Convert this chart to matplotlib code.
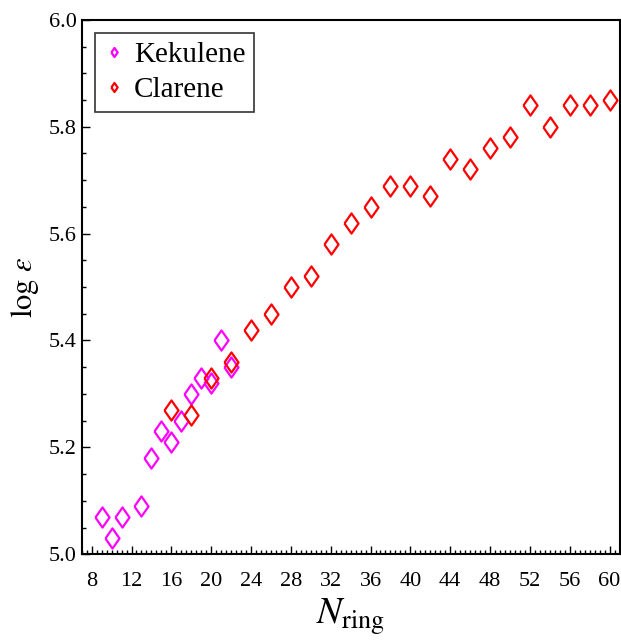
import matplotlib
matplotlib.use("Agg")
import matplotlib.pyplot as plt
from matplotlib.ticker import MultipleLocator, FormatStrFormatter

# Kekulene 数据
kek_n = [9, 10, 11, 13, 14, 15, 16, 17, 18, 19, 20, 21, 22]
kek_loge = [5.07, 5.03, 5.07, 5.09, 5.18, 5.23, 5.21, 5.25, 5.30, 5.33, 5.32, 5.40, 5.35]

# Clarene 数据
cla_n = [16, 18, 20, 22, 24, 26, 28, 30, 32, 34, 36, 38, 40, 42, 44, 46, 48, 50, 52, 54, 56, 58, 60]
cla_loge = [5.27, 5.26, 5.33, 5.36, 5.42, 5.45, 5.50, 5.52, 5.58, 5.62, 5.65, 5.69, 5.69, 5.67,
            5.74, 5.72, 5.76, 5.78, 5.84, 5.80, 5.84, 5.84, 5.85]

plt.rcParams['font.family'] = ['Liberation Serif', 'DejaVu Serif']
plt.rcParams['mathtext.fontset'] = 'stix'

# 稍宽一点的菱形
diamond = [(-0.35, 0), (0, 0.5), (0.35, 0), (0, -0.5), (-0.35, 0)]

fig = plt.figure(figsize=(6.21, 6.40), dpi=100)
ax = fig.add_axes([0.1316, 0.134, 0.866, 0.835])

ax.plot(kek_n, kek_loge, linestyle='none', marker=diamond, markersize=14.5,
        markerfacecolor='none', markeredgecolor='#ff00ff', markeredgewidth=1.6,
        label='Kekulene')
ax.plot(cla_n, cla_loge, linestyle='none', marker=diamond, markersize=14.5,
        markerfacecolor='none', markeredgecolor='#ff0000', markeredgewidth=1.6,
        label='Clarene')

ax.set_xlim(7, 61)
ax.set_ylim(5.0, 6.0)
ax.xaxis.set_major_locator(MultipleLocator(4))
ax.xaxis.set_minor_locator(MultipleLocator(0.5))
ax.yaxis.set_major_locator(MultipleLocator(0.2))
ax.yaxis.set_minor_locator(MultipleLocator(0.05))
ax.yaxis.set_major_formatter(FormatStrFormatter('%.1f'))

ax.tick_params(which='both', direction='in', top=False, right=False, labelsize=16, width=1)
ax.tick_params(which='major', length=6)
ax.tick_params(which='minor', length=3)
ax.tick_params(axis='x', pad=13)
for sp in ax.spines.values():
    sp.set_linewidth(1.5)

ax.set_xlabel(r'$N_{\rm ring}$', fontsize=27, labelpad=4)
ax.set_ylabel(r'$\log\,\epsilon$', fontsize=22, labelpad=6)

leg = ax.legend(loc='upper left', fontsize=21, markerscale=0.45, frameon=True, fancybox=False,
                edgecolor='black', handlelength=0.7, handletextpad=0.35, borderpad=0.3,
                labelspacing=0.3, borderaxespad=0.45)
leg.get_frame().set_linewidth(1.2)

fig.savefig('out.png', dpi=100)
